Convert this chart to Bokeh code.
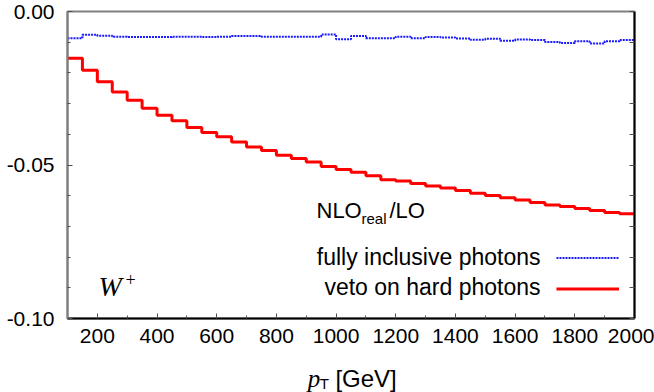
from bokeh.plotting import figure
from bokeh.layouts import column
from bokeh.models import (Range1d, LinearAxis, FixedTicker, Label, Legend,
                          LegendItem, NumeralTickFormatter)
from bokeh.core.properties import value
from bokeh.embed import file_html
from bokeh.resources import INLINE

# ---- data -------------------------------------------------------------
bin_edges = list(range(100, 2001, 50))          # 39 edges, 38 bins of 50 GeV

veto_hard = [-0.0152, -0.0191, -0.0229, -0.0262, -0.0289, -0.0315, -0.0338,
             -0.0356, -0.0378, -0.0394, -0.0408, -0.0425, -0.0441, -0.0453,
             -0.0468, -0.0479, -0.0490, -0.0505, -0.0515, -0.0524, -0.0535,
             -0.0548, -0.0552, -0.0560, -0.0568, -0.0575, -0.0583, -0.0592,
             -0.0599, -0.0607, -0.0614, -0.0622, -0.0630, -0.0635, -0.0642,
             -0.0648, -0.0655, -0.0659]

fully_inclusive = [-0.0087, -0.0076, -0.0079, -0.0082, -0.0083, -0.0083,
                   -0.0083, -0.0082, -0.0082, -0.0083, -0.0082, -0.0080,
                   -0.0080, -0.0082, -0.0082, -0.0082, -0.0082, -0.0075,
                   -0.0090, -0.0080, -0.0087, -0.0087, -0.0082, -0.0087,
                   -0.0083, -0.0085, -0.0088, -0.0092, -0.0089, -0.0095,
                   -0.0091, -0.0093, -0.0099, -0.0103, -0.0097, -0.0104,
                   -0.0097, -0.0093]

x_major_ticks = [200, 400, 600, 800, 1000, 1200, 1400, 1600, 1800, 2000]
x_minor_ticks = [100, 300, 500, 700, 900, 1100, 1300, 1500, 1700, 1900]
y_major_ticks = [0.0, -0.05, -0.10]
y_minor_ticks = [-0.01, -0.02, -0.03, -0.04, -0.06, -0.07, -0.08, -0.09]
y_all_ticks = [0.0, -0.01, -0.02, -0.03, -0.04, -0.05, -0.06, -0.07, -0.08,
               -0.09, -0.10]

series_names = ["fully inclusive photons", "veto on hard photons"]
xlabel_parts = ["p", "T", "[GeV]"]

SANS = "Liberation Sans"
SERIF = "Liberation Serif"
TICK_COL = "#505050"

# ---- main figure --------------------------------------------------------
p = figure(width=654, height=362, output_backend="svg", toolbar_location=None,
           x_range=Range1d(100, 2000), y_range=Range1d(-0.10, 0.0),
           min_border_left=67, min_border_right=20, min_border_top=11,
           min_border_bottom=44, margin=(0, 0, 0, 0))
p.grid.visible = False
p.outline_line_color = "#808080"
p.outline_line_width = 2
p.background_fill_color = "white"
p.border_fill_color = "white"

xa = p.xaxis[0]
xa.ticker = FixedTicker(ticks=x_major_ticks, minor_ticks=x_minor_ticks)
xa.axis_line_color = "black"
xa.axis_line_width = 2
xa.major_tick_in = 5
xa.major_tick_out = 0
xa.minor_tick_in = 3
xa.minor_tick_out = 0
xa.major_tick_line_color = TICK_COL
xa.minor_tick_line_color = TICK_COL
xa.major_label_text_font = SANS
xa.major_label_text_font_size = "21px"
xa.major_label_text_color = "black"
xa.major_label_standoff = 10

ya = p.yaxis[0]
ya.ticker = FixedTicker(ticks=y_major_ticks, minor_ticks=y_minor_ticks)
ya.formatter = NumeralTickFormatter(format="0.00")
ya.axis_line_color = "#808080"
ya.axis_line_width = 2
ya.major_tick_in = 5
ya.major_tick_out = 0
ya.minor_tick_in = 3
ya.minor_tick_out = 0
ya.major_tick_line_color = TICK_COL
ya.minor_tick_line_color = TICK_COL
ya.major_label_text_font = SANS
ya.major_label_text_font_size = "21px"
ya.major_label_text_color = "black"
ya.major_label_standoff = 13

ra = LinearAxis(ticker=FixedTicker(ticks=[], minor_ticks=y_all_ticks))
ra.axis_line_color = "black"
ra.axis_line_width = 2
ra.minor_tick_in = 5
ra.minor_tick_out = 0
ra.minor_tick_line_color = TICK_COL
ra.major_label_standoff = 0
p.add_layout(ra, "right")

# ---- data lines -------------------------------------------------------
blue = p.step(x=bin_edges, y=fully_inclusive + [fully_inclusive[-1]], mode="after",
              line_color="#1a1aff", line_width=2, line_dash="2 1")
red = p.step(x=bin_edges, y=veto_hard + [veto_hard[-1]], mode="after",
             line_color="#ff0000", line_width=3)

# key samples (texts are placed to their left, gnuplot style)
legend = Legend(items=[LegendItem(label=" ", renderers=[blue]),
                       LegendItem(label=" ", renderers=[red])],
                location=(489, 14), glyph_width=63, glyph_height=31,
                label_width=0, label_height=0, label_standoff=0, padding=0,
                spacing=0, margin=0, border_line_alpha=0,
                background_fill_alpha=0, label_text_font=SANS,
                label_text_font_size="12px")
p.add_layout(legend)

# ---- texts inside the frame (frame-relative screen units) -------------
def lab(text, x, y, font=SANS, size="22px", style="normal", align="left"):
    p.add_layout(Label(x=x, y=y, x_units="screen", y_units="screen", text=text,
                       text_font=font, text_font_size=size,
                       text_font_style=style, text_align=align,
                       text_baseline="alphabetic", text_color="black"))

lab("NLO", 249, 108)
lab("real", 294, 100, size="15px")
lab("/LO", 322, 108)
lab(series_names[0], 473, 62, size="23px", align="right")
lab(series_names[1], 473, 32, size="23px", align="right")
lab("W", 31, 32, font=SERIF, size="28px", style="italic")
lab("+", 58, 39, font=SERIF, size="18px")

# ---- x-axis title strip ------------------------------------------------
p2 = figure(width=654, height=30, output_backend="svg", toolbar_location=None,
            title=None, x_range=Range1d(0, 654), y_range=Range1d(0, 30),
            x_axis_type=None, y_axis_type=None, min_border=0,
            margin=(0, 0, 0, 0))
p2.grid.visible = False
p2.outline_line_color = None
p2.background_fill_color = "white"
p2.border_fill_color = "white"

p2.text(x=[277], y=[14], text=[xlabel_parts[0]], text_font=value(SERIF),
        text_font_style="italic", text_font_size="25px", text_color="black",
        text_baseline="alphabetic")
p2.text(x=[291], y=[9], text=[xlabel_parts[1]], text_font=value(SANS),
        text_font_size="15px", text_color="black", text_baseline="alphabetic")
p2.text(x=[309], y=[14], text=[xlabel_parts[2]], text_font=value(SANS),
        text_font_size="24px", text_color="black", text_baseline="alphabetic")

layout = column(p, p2, spacing=0)
open("out.html", "w").write(file_html(layout, INLINE))
